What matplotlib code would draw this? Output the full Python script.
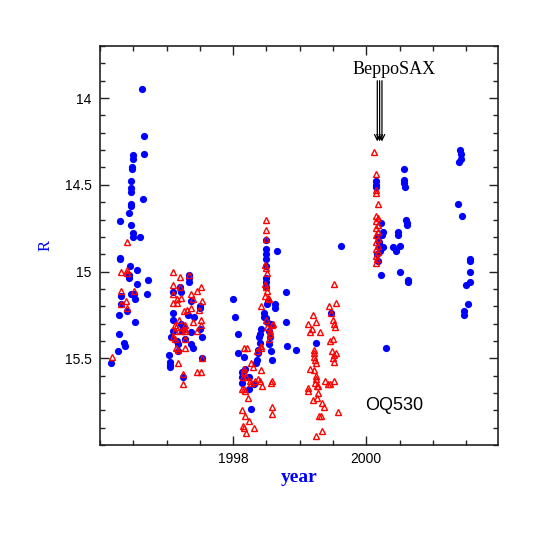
import matplotlib
matplotlib.use("Agg")
import matplotlib.pyplot as plt
from matplotlib.ticker import FixedLocator, MultipleLocator

# blue filled circles (year, R)
blue_year = [1996.63, 1996.66, 1996.66, 1996.50, 1996.50, 1996.48, 1996.48, 1996.47, 1996.47, 1996.46,
             1996.64, 1996.47, 1996.47, 1996.44, 1996.30, 1996.47, 1996.50, 1996.50, 1996.60, 1996.30,
             1996.30, 1996.45, 1996.56, 1996.44, 1996.44, 1996.56, 1996.72, 1996.71, 1996.31, 1996.46,
             1996.51, 1996.52, 1996.31, 1996.40, 1996.29, 1996.53, 1996.29, 1996.36, 1996.38, 1996.27,
             1996.16,
             1997.34, 1997.34, 1997.34, 1997.20, 1997.09, 1997.21, 1997.37, 1997.50, 1997.50, 1997.10,
             1997.32, 1997.41, 1997.10, 1997.22, 1997.25, 1997.23, 1997.50, 1997.10, 1997.36, 1997.07,
             1997.53, 1997.27, 1997.15, 1997.17, 1997.37, 1997.39, 1997.17, 1997.04, 1997.05, 1997.05,
             1997.05, 1997.53, 1997.24,
             1998.00, 1998.03, 1998.08, 1998.08, 1998.16, 1998.13, 1998.13, 1998.13, 1998.18, 1998.24,
             1998.24, 1998.27, 1998.31, 1998.35, 1998.36, 1998.38, 1998.38, 1998.40, 1998.39, 1998.40,
             1998.42, 1998.46, 1998.47, 1998.50, 1998.51, 1998.51, 1998.52, 1998.50, 1998.50, 1998.49,
             1998.50, 1998.49, 1998.50, 1998.49, 1998.50, 1998.66, 1998.79, 1998.63, 1998.63, 1998.79,
             1998.57, 1998.54, 1998.57, 1998.58, 1998.81, 1998.95, 1999.25, 1999.47, 1999.62, 1998.54,
             1998.55,
             2000.14, 2000.14, 2000.14, 2000.56, 2000.57, 2000.57, 2000.58, 2000.60, 2000.61, 2000.61,
             2000.22, 2000.25, 2000.24, 2000.48, 2000.48, 2000.21, 2000.21, 2000.20, 2000.25, 2000.40,
             2000.44, 2000.50, 2000.17, 2000.50, 2000.22, 2000.62, 2000.62, 2000.30, 2000.18, 2000.19,
             2000.16,
             2001.41, 2001.42, 2001.42, 2001.39, 2001.37, 2001.44, 2001.55, 2001.56, 2001.56, 2001.56,
             2001.49, 2001.52, 2001.47, 2001.47]
blue_mag = [13.95, 14.22, 14.32, 14.33, 14.35, 14.40, 14.41, 14.48, 14.52, 14.54,
            14.58, 14.61, 14.62, 14.66, 14.71, 14.73, 14.78, 14.80, 14.80, 14.92,
            14.93, 14.97, 14.99, 15.02, 15.04, 15.07, 15.05, 15.13, 15.14, 15.13,
            15.13, 15.16, 15.19, 15.23, 15.25, 15.29, 15.36, 15.41, 15.43, 15.46,
            15.53,
            15.02, 15.04, 15.06, 15.09, 15.12, 15.12, 15.17, 15.20, 15.21, 15.24,
            15.25, 15.26, 15.28, 15.30, 15.32, 15.34, 15.33, 15.34, 15.35, 15.38,
            15.38, 15.39, 15.40, 15.42, 15.42, 15.44, 15.46, 15.48, 15.52, 15.54,
            15.55, 15.50, 15.61,
            15.16, 15.26, 15.36, 15.47, 15.49, 15.58, 15.61, 15.64, 15.56, 15.61,
            15.68, 15.79, 15.65, 15.53, 15.51, 15.47, 15.45, 15.41, 15.38, 15.36,
            15.33, 15.26, 15.24, 15.27, 15.29, 15.19, 15.17, 15.09, 15.06, 15.04,
            14.97, 14.93, 14.90, 14.87, 14.82, 14.88, 15.12, 15.19, 15.21, 15.29,
            15.30, 15.42, 15.46, 15.51, 15.43, 15.45, 15.41, 15.24, 14.85, 15.34,
            15.38,
            14.48, 14.50, 14.51, 14.41, 14.47, 14.49, 14.51, 14.70, 14.72, 14.73,
            14.72, 14.77, 14.79, 14.77, 14.79, 14.85, 14.87, 14.88, 14.86, 14.86,
            14.88, 14.85, 14.94, 15.00, 15.02, 15.05, 15.06, 15.44, 14.80, 14.83,
            14.90,
            14.30, 14.32, 14.35, 14.37, 14.61, 14.68, 14.93, 14.94, 15.00, 15.06,
            15.08, 15.19, 15.23, 15.25]

# red open triangles (year, R)
red_year = [1996.41, 1996.31, 1996.40, 1996.41, 1996.31, 1996.51, 1996.39, 1996.31, 1996.40, 1996.18,
            1997.10, 1997.20, 1997.34, 1997.10, 1997.20, 1997.52, 1997.45, 1997.10, 1997.36, 1997.40,
            1997.21, 1997.53, 1997.09, 1997.15, 1997.15, 1997.37, 1997.49, 1997.31, 1997.26, 1997.40,
            1997.51, 1997.51, 1997.19, 1997.12, 1997.14, 1997.12, 1997.27, 1997.27, 1997.28, 1997.21,
            1997.45, 1997.10, 1997.12, 1997.27, 1997.14, 1997.27, 1997.17, 1997.53, 1997.17, 1997.24,
            1997.25, 1997.46, 1997.52,
            1998.49, 1998.49, 1998.50, 1998.48, 1998.50, 1998.51, 1998.48, 1998.50, 1998.51, 1998.48,
            1998.52, 1998.54, 1998.42, 1998.50, 1998.51, 1998.58, 1998.60, 1998.55, 1998.55, 1998.54,
            1998.42, 1998.42, 1998.16, 1998.21, 1998.36, 1998.27, 1998.30, 1998.17, 1998.16, 1998.42,
            1998.15, 1998.20, 1998.25, 1998.27, 1998.33, 1998.38, 1998.40, 1998.14, 1998.16, 1998.18,
            1998.44, 1998.57, 1998.58, 1998.22, 1998.14, 1998.58, 1998.18, 1998.59, 1998.24, 1998.15,
            1998.16, 1998.32, 1998.20,
            1999.52, 1999.44, 1999.54, 1999.47, 1999.50, 1999.51, 1999.53, 1999.20, 1999.25, 1999.12,
            1999.19, 1999.15, 1999.31, 1999.45, 1999.50, 1999.21, 1999.21, 1999.22, 1999.23, 1999.24,
            1999.49, 1999.52, 1999.50, 1999.54, 1999.52, 1999.15, 1999.22, 1999.24, 1999.24, 1999.23,
            1999.13, 1999.12, 1999.26, 1999.28, 1999.38, 1999.43, 1999.45, 1999.51, 1999.27, 1999.20,
            1999.26, 1999.33, 1999.36, 1999.57, 1999.29, 1999.32, 1999.33, 1999.25,
            2000.12, 2000.15, 2000.15, 2000.14, 2000.18, 2000.14, 2000.17, 2000.15, 2000.18, 2000.14,
            2000.17, 2000.15, 2000.18, 2000.14, 2000.17, 2000.15, 2000.18, 2000.14, 2000.16, 2000.15]
red_mag = [14.83, 15.00, 14.99, 15.01, 15.11, 15.11, 15.17, 15.19, 15.21, 15.49,
           15.00, 15.03, 15.02, 15.08, 15.09, 15.09, 15.11, 15.13, 15.13, 15.16,
           15.15, 15.17, 15.18, 15.16, 15.18, 15.21, 15.22, 15.22, 15.23, 15.29,
           15.28, 15.31, 15.28, 15.31, 15.32, 15.34, 15.31, 15.33, 15.34, 15.34,
           15.34, 15.38, 15.39, 15.39, 15.44, 15.44, 15.45, 15.50, 15.53, 15.59,
           15.65, 15.58, 15.58,
           14.70, 14.76, 14.81, 14.96, 14.98, 15.01, 15.07, 15.09, 15.11, 15.14,
           15.15, 15.16, 15.20, 15.28, 15.32, 15.31, 15.30, 15.34, 15.36, 15.39,
           15.43, 15.44, 15.44, 15.44, 15.46, 15.53, 15.55, 15.56, 15.58, 15.57,
           15.61, 15.61, 15.63, 15.64, 15.63, 15.62, 15.63, 15.68, 15.68, 15.69,
           15.66, 15.64, 15.63, 15.73, 15.80, 15.78, 15.83, 15.82, 15.86, 15.89,
           15.90, 15.90, 15.93,
           15.07, 15.20, 15.18, 15.24, 15.28, 15.30, 15.32, 15.25, 15.29, 15.30,
           15.33, 15.35, 15.35, 15.40, 15.39, 15.45, 15.47, 15.49, 15.51, 15.53,
           15.46, 15.48, 15.50, 15.47, 15.52, 15.56, 15.57, 15.60, 15.62, 15.64,
           15.67, 15.69, 15.66, 15.66, 15.63, 15.65, 15.65, 15.63, 15.70, 15.74,
           15.73, 15.76, 15.78, 15.81, 15.83, 15.83, 15.92, 15.95,
           14.31, 14.44, 14.53, 14.55, 14.61, 14.68, 14.69, 14.71, 14.73, 14.75,
           14.77, 14.79, 14.81, 14.83, 14.85, 14.87, 14.89, 14.91, 14.93, 14.95]

# BeppoSAX pointings
sax_year = [2000.165, 2000.20, 2000.235]

fig = plt.figure(figsize=(5.45, 5.45), dpi=100)
ax = fig.add_axes([0.1835, 0.1835, 0.7305, 0.732])

ax.plot(blue_year, blue_mag, 'o', color='blue', markersize=5.2, markeredgewidth=0)
ax.plot(red_year, red_mag, '^', color='red', markerfacecolor='none', markersize=4.4, markeredgewidth=1.0)

ax.set_xlim(1996.0, 2001.98)
ax.set_ylim(16.0, 13.7)

ax.xaxis.set_major_locator(FixedLocator([1998, 2000]))
ax.xaxis.set_minor_locator(MultipleLocator(0.5))
ax.yaxis.set_major_locator(FixedLocator([14, 14.5, 15, 15.5]))
ax.yaxis.set_minor_locator(MultipleLocator(0.1))
ax.set_xticklabels(['1998', '2000'])
ax.set_yticklabels(['14', '14.5', '15', '15.5'])
ax.tick_params(which='both', direction='in', top=True, right=True, width=1, colors='#222222')
ax.tick_params(which='major', length=6.5, labelsize=10, pad=6)
ax.tick_params(axis='x', which='major', pad=5)
ax.tick_params(which='minor', length=3.5)
for lab in ax.get_xticklabels() + ax.get_yticklabels():
    lab.set_family('Liberation Sans')
    lab.set_color('black')
for s in ax.spines.values():
    s.set_linewidth(1.2)
    s.set_color('#222222')

ax.set_xlabel('year', color='blue', fontsize=14, family='Liberation Serif', fontweight='bold', labelpad=2)
ax.set_ylabel('R', color='blue', fontsize=12, family='Liberation Serif', labelpad=8)

for x in sax_year:
    ax.annotate('', xy=(x, 14.25), xytext=(x, 13.9),
                arrowprops=dict(arrowstyle='->', color='black', lw=0.9, shrinkA=0, shrinkB=0))
ax.text(2000.42, 13.835, 'BeppoSAX', fontsize=13, family='Liberation Serif', ha='center', va='center')
ax.text(2000.42, 15.77, 'OQ530', fontsize=13, family='Liberation Sans', ha='center', va='center')

fig.savefig('out.png', dpi=100)
